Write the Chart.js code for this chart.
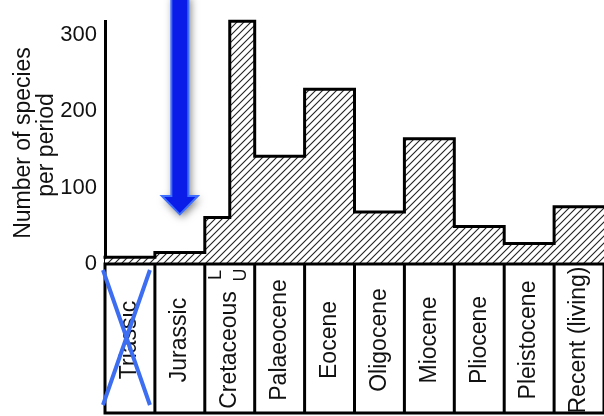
<!DOCTYPE html>
<html>
<head>
<meta charset="utf-8">
<script src="https://cdn.jsdelivr.net/npm/chart.js@4.4.1/dist/chart.umd.min.js"></script>
<style>
html,body{margin:0;padding:0;background:#fff;}
#wrap{width:604px;height:416px;}
</style>
</head>
<body>
<div id="wrap"><canvas id="c" width="604" height="416"></canvas></div>
<script>
// ---- data ----
const periods = ['Triassic','Jurassic','Cretaceous','Palaeocene','Eocene','Oligocene','Miocene','Pliocene','Pleistocene','Recent (living)'];
const periodEdges = [0,1,2,3,4,5,6,7,8,9,10];
const subLabels = ['L','U'];            // Cretaceous Lower / Upper
const subLabelPos = [2.25, 2.75];
const binStarts = [0,1,2,2.5,3,4,5,6,7,8,9];
const binEnd = 10;
const species = [9,15,61,318,141,229,68,164,49,27,75];
const yTicks = [0,100,200,300];
const yTitle = ['Number of species','per period'];
const highlightPeriod = 1.5;   // arrow at Jurassic
const arrowTip = 65, arrowHeadTop = 89;

const points = binStarts.map((x,i)=>({x:x,y:species[i]}));
points.push({x:binEnd,y:species[species.length-1]});

function hatch(){
  const s=7, c=document.createElement('canvas');
  c.width=s;c.height=s;
  const g=c.getContext('2d');
  g.fillStyle='#fff';g.fillRect(0,0,s,s);
  g.strokeStyle='#222';g.lineWidth=1.1;
  g.beginPath();
  g.moveTo(-1,s+1);g.lineTo(s+1,-1);
  g.moveTo(-1,1);g.lineTo(1,-1);
  g.moveTo(s-1,s+1);g.lineTo(s+1,s-1);
  g.stroke();
  return g.createPattern(c,'repeat');
}

const FONT = '"Liberation Sans", Arial, Helvetica, sans-serif';

const bandPlugin = {
  id:'band',
  afterDraw(chart){
    const ctx=chart.ctx, xs=chart.scales.x, ys=chart.scales.y;
    const y0=ys.getPixelForValue(0);
    const bottom=413;
    ctx.save();
    ctx.strokeStyle='#000';ctx.lineWidth=3;
    // baseline
    ctx.beginPath();
    ctx.moveTo(xs.left-1.5,y0);ctx.lineTo(chart.width,y0);
    ctx.moveTo(xs.left-1.5,bottom);ctx.lineTo(chart.width,bottom);
    periodEdges.forEach(e=>{
      const px=xs.getPixelForValue(e);
      if(px<=chart.width){ctx.moveTo(px,y0);ctx.lineTo(px,bottom+1.5);}
    });
    ctx.stroke();
    // labels
    ctx.fillStyle='#111';
    ctx.textAlign='center';ctx.textBaseline='middle';
    ctx.font='23px '+FONT;
    periods.forEach((p,i)=>{
      const cx=xs.getPixelForValue(periodEdges[i]+0.5);
      const cy = p==='Cretaceous' ? 350 : 340;
      ctx.save();ctx.translate(cx,cy);ctx.rotate(-Math.PI/2);
      ctx.fillText(p,0,0);ctx.restore();
    });
    ctx.font='18px '+FONT;
    subLabels.forEach((t,i)=>{
      const cx=xs.getPixelForValue(subLabelPos[i]);
      ctx.save();ctx.translate(cx-1,275);ctx.rotate(-Math.PI/2);
      ctx.fillText(t,0,0);ctx.restore();
    });
    // y title
    ctx.font='23px '+FONT;
    ctx.save();ctx.translate(24,143);ctx.rotate(-Math.PI/2);ctx.fillText(yTitle[0],0,0);ctx.restore();
    ctx.save();ctx.translate(46.5,145);ctx.rotate(-Math.PI/2);ctx.fillText(yTitle[1],0,0);ctx.restore();

    // blue cross over Triassic
    const xa=xs.getPixelForValue(0)-2, xb=xs.getPixelForValue(0.9);
    ctx.strokeStyle='#3d6ef2';ctx.lineWidth=4;ctx.lineCap='butt';
    ctx.beginPath();
    ctx.moveTo(xa,270);ctx.lineTo(xb,405);
    ctx.moveTo(xb,270);ctx.lineTo(xa,405);
    ctx.stroke();

    // blue arrow
    const ax=xs.getPixelForValue(highlightPeriod);
    const tip=ys.getPixelForValue(arrowTip), ht=ys.getPixelForValue(arrowHeadTop);
    const sw=8.5, hw=18;
    ctx.beginPath();
    ctx.moveTo(ax-sw,-5);ctx.lineTo(ax+sw,-5);ctx.lineTo(ax+sw,ht);ctx.lineTo(ax+hw,ht);
    ctx.lineTo(ax,tip);ctx.lineTo(ax-hw,ht);ctx.lineTo(ax-sw,ht);ctx.closePath();
    ctx.shadowColor='rgba(0,0,0,0.55)';ctx.shadowBlur=8;ctx.shadowOffsetX=2;ctx.shadowOffsetY=3;
    ctx.fillStyle='#0a1ce8';ctx.fill();
    ctx.shadowColor='transparent';
    ctx.strokeStyle='#3f6fff';ctx.lineWidth=2;ctx.lineJoin='miter';ctx.stroke();
    ctx.restore();
  }
};

new Chart(document.getElementById('c'),{
  type:'line',
  data:{datasets:[{
    data:points,
    stepped:'before',
    borderColor:'#000',
    borderWidth:3,
    backgroundColor:hatch(),
    fill:'origin',
    pointRadius:0,
    clip:false,
    borderCapStyle:'square'
  }]},
  options:{
    responsive:false,
    animation:false,
    events:[],
    layout:{padding:{top:9,bottom:152,left:0,right:0}},
    plugins:{legend:{display:false},tooltip:{enabled:false}},
    scales:{
      x:{type:'linear',min:0,max:10,display:false},
      y:{
        min:0,max:318,
        afterFit(s){s.width=105;},
        afterBuildTicks(s){s.ticks=yTicks.map(v=>({value:v}));},
        grid:{display:false,drawTicks:false},
        border:{display:true,color:'#000',width:3},
        ticks:{padding:8,color:'#111',font:{family:FONT,size:22}}
      }
    }
  },
  plugins:[bandPlugin]
});
</script>
</body>
</html>
